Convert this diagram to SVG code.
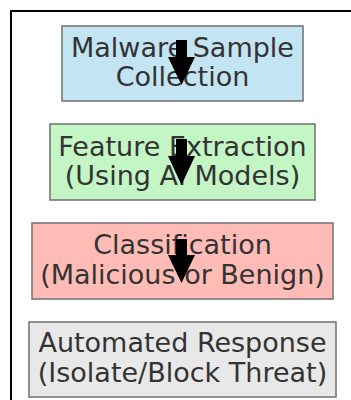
<svg xmlns="http://www.w3.org/2000/svg" width="351" height="400" viewBox="0 0 351 400">
  <style>
    .box { stroke: #777777; stroke-width: 1.6; }
    .lbl { font-family: "DejaVu Sans", "Liberation Sans", sans-serif; font-size: 27px; fill: #333333; text-anchor: middle; }
    .arrow { fill: #000000; }
  </style>
  <rect width="351" height="400" fill="#ffffff"/>
  <!-- outer frame, running off the right and bottom edges -->
  <rect x="11" y="11" width="360" height="400" fill="none" stroke="#000000" stroke-width="2"/>

  <g id="node-collection">
    <rect class="box" x="62" y="26" width="241" height="75" fill="#c3e4f2"/>
    <text class="lbl" x="182.5" y="57">Malware Sample</text>
    <text class="lbl" x="182.5" y="86">Collection</text>
  </g>
  <g id="node-extraction">
    <rect class="box" x="50" y="124" width="265" height="76" fill="#c4f5c4"/>
    <text class="lbl" x="182.5" y="156">Feature Extraction</text>
    <text class="lbl" x="182.5" y="185">(Using AI Models)</text>
  </g>
  <g id="node-classification">
    <rect class="box" x="32" y="223" width="301" height="76" fill="#ffbcb6"/>
    <text class="lbl" x="182.5" y="254">Classification</text>
    <text class="lbl" x="182.5" y="284">(Malicious or Benign)</text>
  </g>
  <g id="node-response">
    <rect class="box" x="29" y="322" width="307" height="75" fill="#e8e8e8"/>
    <text class="lbl" x="182.5" y="352">Automated Response</text>
    <text class="lbl" x="182.5" y="382">(Isolate/Block Threat)</text>
  </g>

  <g id="connectors">
    <polygon class="arrow" points="176,40 187,40 187,57 195,57 181.5,85 168,57 176,57"/>
    <polygon class="arrow" points="176,139 187,139 187,156 195,156 181.5,185 168,156 176,156"/>
    <polygon class="arrow" points="176,239 187,239 187,255 195,255 181.5,283 168,255 176,255"/>
  </g>
</svg>
